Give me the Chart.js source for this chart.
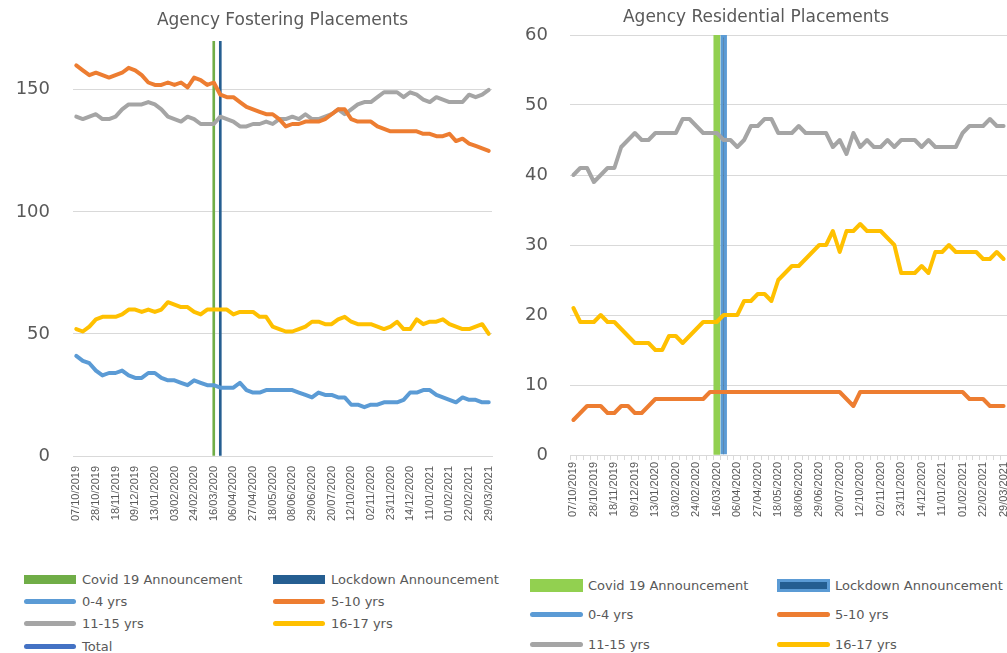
<!DOCTYPE html>
<html>
<head>
<meta charset="utf-8">
<title>Agency Placements</title>
<script src="https://cdn.jsdelivr.net/npm/chart.js@4.4.1/dist/chart.umd.min.js"></script>
<style>
    body {
        margin: 0;
        width: 1007px;
        height: 653px;
        overflow: hidden;
        position: relative;
        background: #fff;
        font-family: 'DejaVu Sans', sans-serif;
        color: #595959;
    }
    .chart-box { position: absolute; top: 0; }
    #fosterBox { left: 0; width: 500px; height: 530px; }
    #resiBox { left: 505px; width: 502px; height: 530px; }
    .legend { position: absolute; font-size: 13px; }
    #fosterLegend { left: 24px; top: 569px; }
    #resiLegend { left: 530px; top: 575px; }
    .legend-item {
        position: absolute;
        height: 20px;
        display: flex;
        align-items: center;
        white-space: nowrap;
    }
    .legend-mark { flex: none; box-sizing: border-box; display: inline-block; }
</style>
</head>
<body>
<div class="chart-box" id="fosterBox"><canvas id="fosterChart" width="500" height="530"></canvas></div>
<div class="chart-box" id="resiBox"><canvas id="resiChart" width="502" height="530"></canvas></div>
<div class="legend" id="fosterLegend"></div>
<div class="legend" id="resiLegend"></div>

<script>
// Weekly snapshot dates (some weeks missing in the source data)
const categories = [
    '07/10/2019', '14/10/2019', '21/10/2019', '28/10/2019', '04/11/2019', '11/11/2019', '18/11/2019', '25/11/2019',
    '02/12/2019', '09/12/2019', '16/12/2019', '06/01/2020', '13/01/2020', '20/01/2020', '27/01/2020', '03/02/2020',
    '10/02/2020', '17/02/2020', '24/02/2020', '02/03/2020', '09/03/2020', '16/03/2020', '23/03/2020', '30/03/2020',
    '06/04/2020', '13/04/2020', '20/04/2020', '27/04/2020', '04/05/2020', '11/05/2020', '18/05/2020', '25/05/2020',
    '01/06/2020', '08/06/2020', '15/06/2020', '22/06/2020', '29/06/2020', '06/07/2020', '13/07/2020', '20/07/2020',
    '14/09/2020', '28/09/2020', '12/10/2020', '19/10/2020', '26/10/2020', '02/11/2020', '09/11/2020', '16/11/2020',
    '23/11/2020', '30/11/2020', '07/12/2020', '14/12/2020', '21/12/2020', '04/01/2021', '11/01/2021', '18/01/2021',
    '25/01/2021', '01/02/2021', '08/02/2021', '15/02/2021', '22/02/2021', '08/03/2021', '15/03/2021', '29/03/2021'
];

// Agency fostering placements
const fosterAge0to4 = [
    41, 39, 38, 35, 33, 34, 34, 35, 33, 32, 32, 34, 34, 32, 31, 31, 30, 29, 31, 30, 29, 29, 28, 28, 28, 30, 27, 26, 26, 27, 27, 27,
    27, 27, 26, 25, 24, 26, 25, 25, 24, 24, 21, 21, 20, 21, 21, 22, 22, 22, 23, 26, 26, 27, 27, 25, 24, 23, 22, 24, 23, 23, 22, 22
];
const fosterAge5to10 = [
    160, 158, 156, 157, 156, 155, 156, 157, 159, 158, 156, 153, 152, 152, 153, 152, 153, 151, 155, 154, 152, 153, 148, 147, 147, 145, 143, 142, 141, 140, 140, 138,
    135, 136, 136, 137, 137, 137, 138, 140, 142, 142, 138, 137, 137, 137, 135, 134, 133, 133, 133, 133, 133, 132, 132, 131, 131, 132, 129, 130, 128, 127, 126, 125
];
const fosterAge11to15 = [
    139, 138, 139, 140, 138, 138, 139, 142, 144, 144, 144, 145, 144, 142, 139, 138, 137, 139, 138, 136, 136, 136, 139, 138, 137, 135, 135, 136, 136, 137, 136, 138,
    138, 139, 138, 140, 138, 138, 139, 140, 142, 140, 142, 144, 145, 145, 147, 149, 149, 149, 147, 149, 148, 146, 145, 147, 146, 145, 145, 145, 148, 147, 148, 150
];
const fosterAge16to17 = [
    52, 51, 53, 56, 57, 57, 57, 58, 60, 60, 59, 60, 59, 60, 63, 62, 61, 61, 59, 58, 60, 60, 60, 60, 58, 59, 59, 59, 57, 57, 53, 52,
    51, 51, 52, 53, 55, 55, 54, 54, 56, 57, 55, 54, 54, 54, 53, 52, 53, 55, 52, 52, 56, 54, 55, 55, 56, 54, 53, 52, 52, 53, 54, 50
];
const fosterTotal = []; // off the plotted range, only listed in the legend

// Agency residential placements
const resiAge0to4 = []; // none recorded
const resiAge5to10 = [
    5, 6, 7, 7, 7, 6, 6, 7, 7, 6, 6, 7, 8, 8, 8, 8, 8, 8, 8, 8, 9, 9, 9, 9, 9, 9, 9, 9, 9, 9, 9, 9,
    9, 9, 9, 9, 9, 9, 9, 9, 8, 7, 9, 9, 9, 9, 9, 9, 9, 9, 9, 9, 9, 9, 9, 9, 9, 9, 8, 8, 8, 7, 7, 7
];
const resiAge11to15 = [
    40, 41, 41, 39, 40, 41, 41, 44, 45, 46, 45, 45, 46, 46, 46, 46, 48, 48, 47, 46, 46, 46, 45, 45, 44, 45, 47, 47, 48, 48, 46, 46,
    46, 47, 46, 46, 46, 46, 44, 45, 43, 46, 44, 45, 44, 44, 45, 44, 45, 45, 45, 44, 45, 44, 44, 44, 44, 46, 47, 47, 47, 48, 47, 47
];
const resiAge16to17 = [
    21, 19, 19, 19, 20, 19, 19, 18, 17, 16, 16, 16, 15, 15, 17, 17, 16, 17, 18, 19, 19, 19, 20, 20, 20, 22, 22, 23, 23, 22, 25, 26,
    27, 27, 28, 29, 30, 30, 32, 29, 32, 32, 33, 32, 32, 32, 31, 30, 26, 26, 26, 27, 26, 29, 29, 30, 29, 29, 29, 29, 28, 28, 29, 28
];

// Announcement markers (drawn as full height bars)
const covidDate = '16/03/2020';
const lockdownDate = '23/03/2020';
const fosterMax = 170;
const resiMax = 60;

Chart.defaults.font.family = "'DejaVu Sans', sans-serif";
Chart.defaults.color = '#595959';

function markerSeries(date, height) {
    return categories.map(c => (c === date ? height : null));
}

function lineSeries(label, data, color) {
    return {
        type: 'line',
        label: label,
        data: data,
        borderColor: color,
        backgroundColor: color,
        borderWidth: 4,
        pointRadius: 0,
        tension: 0,
        borderJoinStyle: 'round',
        borderCapStyle: 'round',
        order: 1
    };
}

function barSeries(label, data, fill, border, borderWidth, thickness) {
    return {
        type: 'bar',
        label: label,
        data: data,
        backgroundColor: fill,
        borderColor: border,
        borderWidth: borderWidth,
        barThickness: thickness,
        grouped: false,
        order: 2
    };
}

// Builds a two column legend below the chart from the chart's legend items
const htmlLegendPlugin = {
    id: 'htmlLegend',
    afterUpdate(chart, args, options) {
        const box = document.getElementById(options.containerID);
        box.innerHTML = '';

        const items = chart.options.plugins.legend.labels.generateLabels(chart)
            .sort((a, b) => a.datasetIndex - b.datasetIndex);

        items.forEach((item, i) => {
            const ds = chart.data.datasets[item.datasetIndex];
            const el = document.createElement('div');
            el.className = 'legend-item';
            el.style.left = ((i % 2) * options.colWidth) + 'px';
            el.style.top = (Math.floor(i / 2) * options.rowHeight) + 'px';

            const mark = document.createElement('span');
            mark.className = 'legend-mark';
            mark.style.width = options.markWidth + 'px';
            if (ds.type === 'bar') {
                mark.style.height = options.barHeight + 'px';
                mark.style.background = ds.backgroundColor;
                if (ds.borderWidth) {
                    mark.style.border = ds.borderWidth + 'px solid ' + ds.borderColor;
                }
            } else {
                mark.style.height = '5px';
                mark.style.borderRadius = '3px';
                mark.style.background = ds.borderColor;
            }

            const text = document.createElement('span');
            text.style.marginLeft = options.gap + 'px';
            text.textContent = item.text;

            el.appendChild(mark);
            el.appendChild(text);
            box.appendChild(el);
        });
    }
};

function buildChart(canvasId, cfg) {
    const ctx = document.getElementById(canvasId).getContext('2d');
    return new Chart(ctx, {
        type: 'line',
        data: { labels: categories, datasets: cfg.datasets },
        options: {
            responsive: false,
            animation: false,
            layout: { padding: { left: 0, right: cfg.rightPad, top: 0, bottom: 0 } },
            plugins: {
                legend: { display: false },
                tooltip: { enabled: false },
                title: {
                    display: true,
                    text: cfg.title,
                    fullSize: cfg.titleFullSize,
                    color: '#595959',
                    font: { size: 17, weight: 'normal' },
                    padding: cfg.titlePadding
                },
                htmlLegend: cfg.legend
            },
            scales: {
                x: {
                    type: 'category',
                    offset: true,
                    grid: cfg.xGrid,
                    border: { display: true, color: '#D9D9D9' },
                    ticks: {
                        autoSkip: false,
                        minRotation: 90,
                        maxRotation: 90,
                        padding: cfg.xPadding,
                        color: '#595959',
                        font: { family: "'Liberation Sans', Arial, sans-serif", size: 11 },
                        callback: function (value, index) {
                            return index % 3 === 0 ? this.getLabelForValue(value) : '';
                        }
                    },
                    afterFit: scale => {
                        scale.height = cfg.xHeight;
                        scale.paddingLeft = 0;
                        scale.paddingRight = 0;
                    }
                },
                y: {
                    min: 0,
                    max: cfg.yMax,
                    grid: { color: '#D9D9D9', drawTicks: false },
                    border: { display: false },
                    ticks: {
                        stepSize: cfg.yStep,
                        padding: cfg.yPadding,
                        color: '#595959',
                        font: { size: 18 }
                    },
                    afterBuildTicks: scale => {
                        scale.ticks = scale.ticks.filter(t => t.value % cfg.yStep === 0);
                    },
                    afterFit: scale => {
                        scale.width = cfg.yWidth;
                    }
                }
            }
        },
        plugins: [htmlLegendPlugin]
    });
}

buildChart('fosterChart', {
    title: 'Agency Fostering Placements',
    titleFullSize: false,
    titlePadding: { top: 10, bottom: 10.6 },
    rightPad: 8,
    yMax: fosterMax,
    yStep: 50,
    yWidth: 73,
    yPadding: 23,
    xHeight: 74,
    xPadding: 10,
    xGrid: { display: false, drawTicks: false },
    legend: { containerID: 'fosterLegend', colWidth: 249, rowHeight: 22.4, markWidth: 52, barHeight: 9, gap: 6 },
    datasets: [
        barSeries('Covid 19 Announcement', markerSeries(covidDate, fosterMax), '#70AD47', '#70AD47', 0, 2),
        barSeries('Lockdown Announcement', markerSeries(lockdownDate, fosterMax), '#255E91', '#255E91', 0, 2),
        lineSeries('0-4 yrs', fosterAge0to4, '#5B9BD5'),
        lineSeries('5-10 yrs', fosterAge5to10, '#ED7D31'),
        lineSeries('11-15 yrs', fosterAge11to15, '#A5A5A5'),
        lineSeries('16-17 yrs', fosterAge16to17, '#FFC000'),
        lineSeries('Total', fosterTotal, '#4472C4')
    ]
});

buildChart('resiChart', {
    title: 'Agency Residential Placements',
    titleFullSize: true,
    titlePadding: { top: 7.5, bottom: 7.1 },
    rightPad: 0,
    yMax: resiMax,
    yStep: 10,
    yWidth: 65,
    yPadding: 22,
    xHeight: 75,
    xPadding: 2,
    xGrid: { display: true, drawOnChartArea: false, drawTicks: true, tickLength: 5, color: '#D9D9D9', offset: true },
    legend: { containerID: 'resiLegend', colWidth: 247, rowHeight: 29.5, markWidth: 53, barHeight: 13, gap: 5 },
    datasets: [
        barSeries('Covid 19 Announcement', markerSeries(covidDate, resiMax), '#92D050', '#92D050', 0, 6),
        barSeries('Lockdown Announcement', markerSeries(lockdownDate, resiMax), '#255E91', '#5B9BD5', 3, 6),
        lineSeries('0-4 yrs', resiAge0to4, '#5B9BD5'),
        lineSeries('5-10 yrs', resiAge5to10, '#ED7D31'),
        lineSeries('11-15 yrs', resiAge11to15, '#A5A5A5'),
        lineSeries('16-17 yrs', resiAge16to17, '#FFC000')
    ]
});
</script>
</body>
</html>
